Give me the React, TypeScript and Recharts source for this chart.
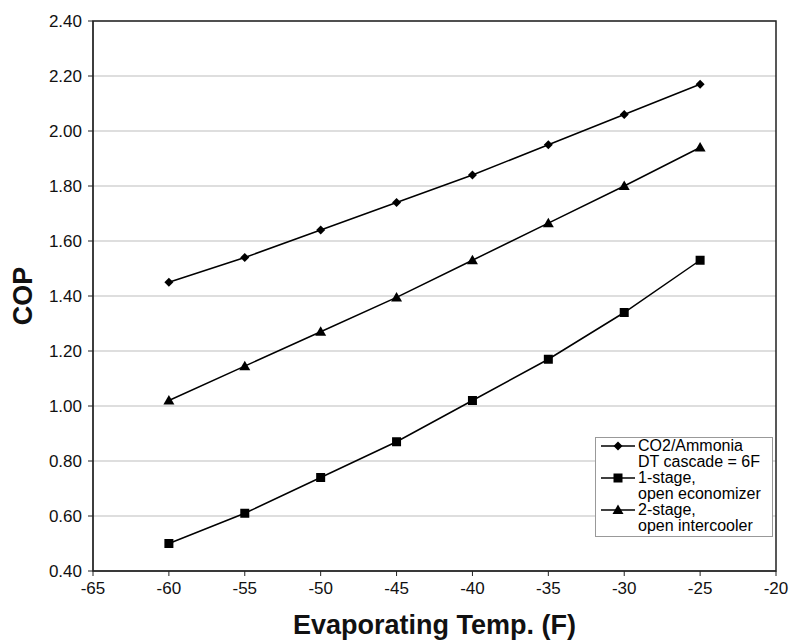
import {
  LineChart, Line, XAxis, YAxis, CartesianGrid, Legend, ReferenceArea,
} from "recharts";

const temps = [-60, -55, -50, -45, -40, -35, -30, -25];
const co2Ammonia = [1.45, 1.54, 1.64, 1.74, 1.84, 1.95, 2.06, 2.17];
const oneStage = [0.5, 0.61, 0.74, 0.87, 1.02, 1.17, 1.34, 1.53];
const twoStage = [1.02, 1.145, 1.27, 1.395, 1.53, 1.665, 1.8, 1.94];

const xTicks = [-65, -60, -55, -50, -45, -40, -35, -30, -25, -20];
const yTicks = [0.4, 0.6, 0.8, 1.0, 1.2, 1.4, 1.6, 1.8, 2.0, 2.2, 2.4];

const data = temps.map((t, i) => ({
  t,
  co2: co2Ammonia[i],
  one: oneStage[i],
  two: twoStage[i],
}));

const FONT = "Arial, 'Liberation Sans', sans-serif";

const Diamond = ({ cx, cy }: any) =>
  cx == null ? null : (
    <path d={`M${cx},${cy - 4.5}L${cx + 4.5},${cy}L${cx},${cy + 4.5}L${cx - 4.5},${cy}Z`} fill="#000" />
  );
const Square = ({ cx, cy }: any) =>
  cx == null ? null : <rect x={cx - 4.5} y={cy - 4.5} width={9} height={9} fill="#000" />;
const Triangle = ({ cx, cy }: any) =>
  cx == null ? null : (
    <path d={`M${cx},${cy - 5.5}L${cx + 5.5},${cy + 4}L${cx - 5.5},${cy + 4}Z`} fill="#000" />
  );

const legendItems = [
  { lines: ["CO2/Ammonia", "DT cascade = 6F"], Marker: Diamond },
  { lines: ["1-stage,", "open economizer"], Marker: Square },
  { lines: ["2-stage,", "open intercooler"], Marker: Triangle },
];

const LegendBox = () => (
  <div
    style={{
      border: "1px solid #999",
      background: "#fff",
      padding: "0px 4px 0px 4px",
      fontFamily: FONT,
      fontSize: 16,
      lineHeight: "16px",
      color: "#000",
      boxSizing: "border-box",
      height: 100,
    }}
  >
    {legendItems.map(({ lines, Marker }) => (
      <div key={lines[0]} style={{ display: "flex", alignItems: "flex-start" }}>
        <svg width={36} height={16} style={{ flex: "none" }}>
          <line x1={1} y1={8} x2={35} y2={8} stroke="#000" strokeWidth={1.5} />
          <Marker cx={18} cy={8} />
        </svg>
        <div style={{ marginLeft: 2 }}>
          {lines[0]}
          <br />
          {lines[1]}
        </div>
      </div>
    ))}
  </div>
);

export default function App() {
  return (
    <div style={{ position: "absolute", left: 0, top: 0, background: "#fff" }}>
      <LineChart width={789} height={641} data={data} margin={{ top: 21, right: 13, left: 0, bottom: 0 }}>
        <CartesianGrid vertical={false} stroke="#bdbdbd" strokeWidth={1.2} />
        <XAxis
          dataKey="t"
          type="number"
          domain={[-65, -20]}
          ticks={xTicks}
          height={70}
          tickSize={5}
          tickMargin={6}
          stroke="#222"
          tick={{ fill: "#111", fontSize: 17, fontFamily: FONT }}
          label={({ viewBox }: any) => (
            <text
              x={viewBox.x + viewBox.width / 2}
              y={viewBox.y + 63}
              textAnchor="middle"
              fontFamily={FONT}
              fontWeight="bold"
              fontSize={27}
              fill="#111"
            >
              Evaporating Temp. (F)
            </text>
          )}
        />
        <YAxis
          type="number"
          domain={[0.4, 2.4]}
          ticks={yTicks}
          width={93}
          tickSize={5}
          tickMargin={6}
          stroke="#222"
          tickFormatter={(v: number) => v.toFixed(2)}
          tick={{ fill: "#111", fontSize: 17, fontFamily: FONT }}
          label={({ viewBox }: any) => (
            <text
              x={viewBox.x + 23}
              y={viewBox.y + viewBox.height / 2}
              transform={`rotate(-90 ${viewBox.x + 23} ${viewBox.y + viewBox.height / 2})`}
              textAnchor="middle"
              dominantBaseline="central"
              fontFamily={FONT}
              fontWeight="bold"
              fontSize={27}
              fill="#111"
            >
              COP
            </text>
          )}
        />
        <ReferenceArea x1={-65} x2={-20} y1={0.4} y2={2.4} fill="none" stroke="#222" strokeWidth={1.5} ifOverflow="visible" />
        <Line dataKey="co2" stroke="#000" strokeWidth={1.5} dot={<Diamond />} isAnimationActive={false} />
        <Line dataKey="one" stroke="#000" strokeWidth={1.5} dot={<Square />} isAnimationActive={false} />
        <Line dataKey="two" stroke="#000" strokeWidth={1.5} dot={<Triangle />} isAnimationActive={false} />
        <Legend
          layout="horizontal"
          verticalAlign="middle"
          content={<LegendBox />}
          wrapperStyle={{ position: "absolute", left: 595, top: 437, width: 178 }}
        />
      </LineChart>
    </div>
  );
}
